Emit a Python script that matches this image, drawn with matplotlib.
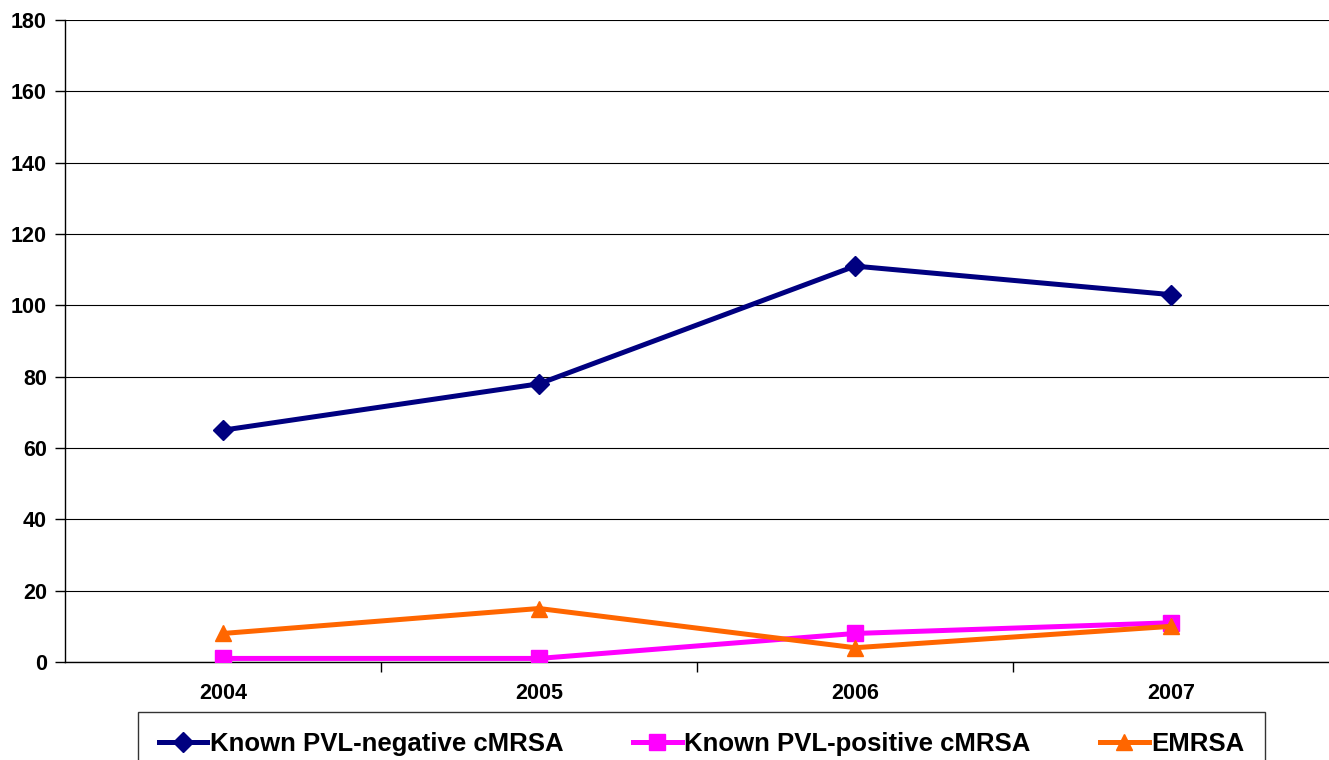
import numpy as np
import matplotlib.pyplot as plt

plt.rcParams['font.family'] = ['Liberation Sans', 'DejaVu Sans']
plt.rcParams['font.weight'] = 'bold'

years = ['2004', '2005', '2006', '2007']
pvl_neg = [65, 78, 111, 103]
pvl_pos = [1, 1, 8, 11]
emrsa = [8, 15, 4, 10]

fig = plt.figure(figsize=(13.29, 7.6), dpi=100)
ax = fig.add_axes([65 / 1329, 98 / 760, 1 - 65 / 1329, 642 / 760])

x = np.arange(len(years))
ax.plot(x, pvl_neg, color='#000080', lw=3.6, marker='D', ms=10,
        label='Known PVL-negative cMRSA', zorder=3)
ax.plot(x, pvl_pos, color='#FF00FF', lw=3.6, marker='s', ms=11,
        label='Known PVL-positive cMRSA', zorder=3)
ax.plot(x, emrsa, color='#FF6600', lw=3.6, marker='^', ms=12,
        label='EMRSA', zorder=3)

ax.set_xlim(-0.5, 3.5)
ax.set_ylim(0, 180)
ax.set_yticks(range(0, 181, 20))
ax.set_xticks(x)
ax.set_xticklabels(years)
ax.set_xticks([0.5, 1.5, 2.5], minor=True)
ax.tick_params(axis='x', which='major', length=0, pad=15, labelsize=15.5)
ax.tick_params(axis='x', which='minor', length=7, width=1)
ax.tick_params(axis='y', length=7, width=1, labelsize=15.5, pad=6)
ax.grid(axis='y', color='black', lw=0.8)
ax.set_axisbelow(True)
for s in ['top', 'right']:
    ax.spines[s].set_visible(False)
ax.spines['left'].set_linewidth(1)
ax.spines['bottom'].set_linewidth(1)

# legend box runs off the bottom edge, as in the original
leg = fig.legend(loc='lower left', ncol=3, mode='expand',
                 bbox_to_anchor=(138 / 1329, -0.022, 1127 / 1329, 0.01),
                 fontsize=18.5, frameon=True, fancybox=False, edgecolor='black',
                 handlelength=1.9, handletextpad=0.1, columnspacing=2.1,
                 borderpad=0.8, borderaxespad=0)
leg.get_frame().set_linewidth(1)

fig.savefig('out.png', dpi=100)
